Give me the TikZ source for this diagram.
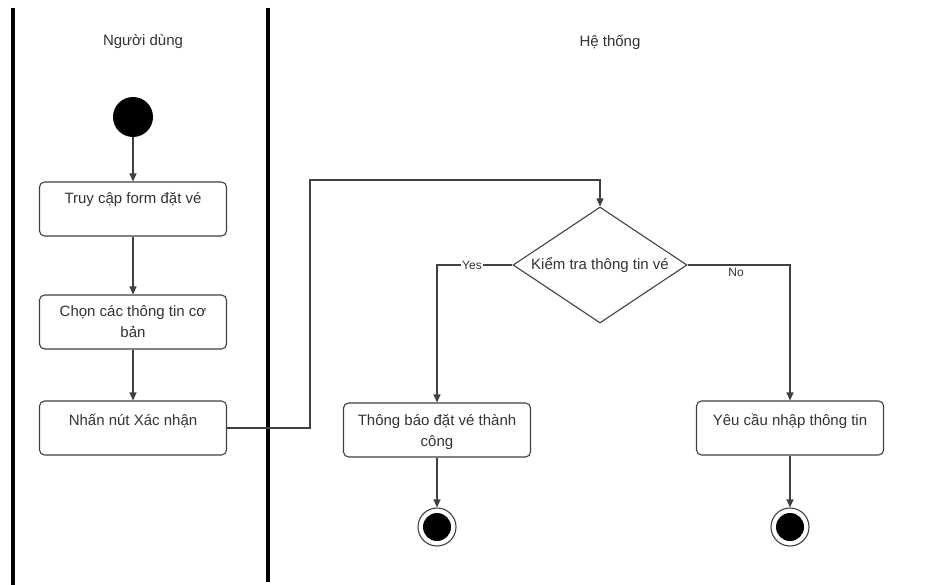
\documentclass[tikz,border=0pt]{standalone}
\usepackage{fontspec}
\setmainfont{Liberation Sans}
\usetikzlibrary{arrows.meta,shapes.geometric}
\definecolor{ink}{HTML}{333333}
\definecolor{edge}{HTML}{404040}
\tikzset{
  lane/.style={line width=3.5pt,black},
  act/.style={draw=edge,line width=1.1pt,rounded corners=5pt,minimum width=187pt,minimum height=54pt,inner sep=0pt},
  txt/.style={text=ink,font=\fontsize{15}{21}\selectfont,align=center,inner sep=0pt},
  flow/.style={draw=edge,line width=1.1pt,-{Triangle[length=8pt,width=7pt]}},
  startnode/.style={circle,fill=black,minimum size=40pt,inner sep=0pt},
  endring/.style={circle,draw=edge,line width=1.1pt,fill=white,minimum size=38pt,inner sep=0pt},
  enddot/.style={circle,fill=black,minimum size=28pt,inner sep=0pt},
  decide/.style={diamond,draw=edge,line width=1.1pt,minimum width=174pt,minimum height=116pt,inner sep=0pt},
  guard/.style={txt,fill=white,inner sep=1pt,font=\fontsize{12}{14}\selectfont}
}
\begin{document}
\begin{tikzpicture}[x=1pt,y=-1pt]
\useasboundingbox (0,0) rectangle (939,585);
\fill[white] (0,0) rectangle (939,585);

% swimlane separators and titles
\draw[lane] (13,8) -- (13,585);
\draw[lane] (268,8) -- (268,582);
\node[txt] (lane1) at (143,42) {Người dùng};
\node[txt] (lane2) at (610,42) {Hệ thống};

% user lane
\node[startnode] (start) at (133,117) {};
\node[act] (b1) at (133,209) {};
\node[txt] (t1) at ([yshift=-18pt]b1.north) {Truy cập form đặt vé};
\node[act] (b2) at (133,322) {};
\node[txt] (t2) at ([yshift=-27pt]b2.north) {Chọn các thông tin cơ\\bản};
\node[act] (b3) at (133,428) {};
\node[txt] (t3) at ([yshift=-20pt]b3.north) {Nhấn nút Xác nhận};

% system lane
\node[decide] (d) at (600,265) {};
\node[txt] (td) at (600,265) {Kiểm tra thông tin vé};
\node[act] (b4) at (437,430) {};
\node[txt] (t4) at ([yshift=-30pt]b4.north) {Thông báo đặt vé thành\\công};
\node[act] (b5) at (790,428) {};
\node[txt] (t5) at ([yshift=-21pt]b5.north) {Yêu cầu nhập thông tin};

\node[endring] (e1) at (437,527) {};
\node[enddot] at (e1) {};
\node[endring] (e2) at (790,527) {};
\node[enddot] at (e2) {};

% connectors
\draw[flow] (start) -- (b1);
\draw[flow] (b1) -- (b2);
\draw[flow] (b2) -- (b3);
\coordinate (j1) at (310,428);
\coordinate (j2) at (310,180);
\draw[flow] (b3.east) -- (j1) -- (j2) -| (d.north);
\draw[flow] (d.west) -| (b4.north);
\draw[flow] (d.east) -| (b5.north);
\node[guard] (yes) at (472,265) {Yes};
\node[guard] (no) at (736,272) {No};
\draw[flow] (b4) -- (e1);
\draw[flow] (b5) -- (e2);
\end{tikzpicture}
\end{document}
